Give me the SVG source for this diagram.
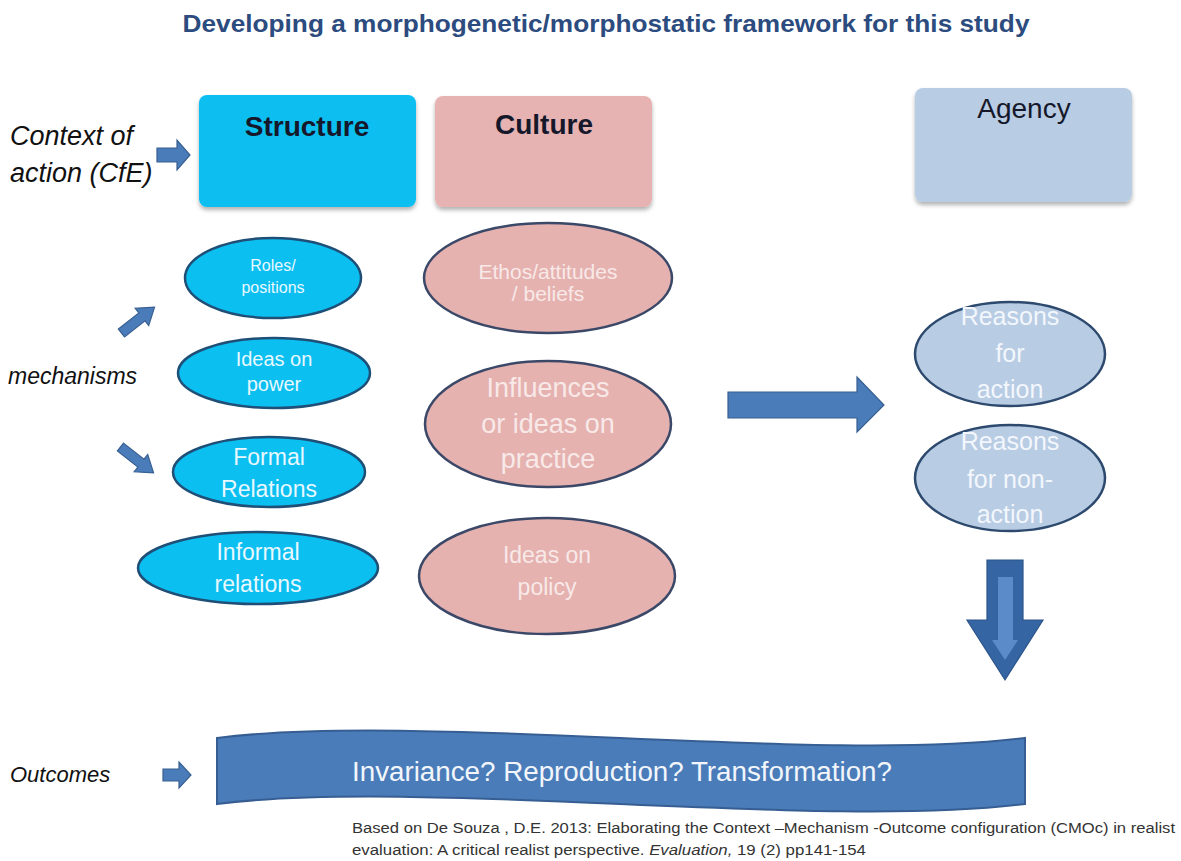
<svg xmlns="http://www.w3.org/2000/svg" width="1181" height="861" viewBox="0 0 1181 861">
<defs>
<filter id="sh" x="-10%" y="-10%" width="120%" height="130%">
<feDropShadow dx="0" dy="3" stdDeviation="2" flood-color="#000" flood-opacity="0.3"/>
</filter>
<path id="smallArrow" d="M -21 -5 L 5 -5 L 5 -11 L 21 0 L 5 11 L 5 5 L -21 5 Z"/>
</defs>
<style>
text{font-family:"Liberation Sans",Arial,sans-serif}
.title{font-size:24px;font-weight:bold;fill:#2c4b7e}
.head{font-size:28px;fill:#15182a}
.lbl{font-size:27px;font-style:italic;fill:#111}
.box-s{fill:#0bbff1}
.box-c{fill:#e6b3b2}
.box-a{fill:#b8cce4}
.ell-s{fill:#0bbff1;stroke:#1f4f77;stroke-width:2.5}
.ell-c{fill:#e5b2b0;stroke:#3b4868;stroke-width:2.5}
.ell-a{fill:#b8cce4;stroke:#2d4a6e;stroke-width:2.5}
.ts{fill:#e9f8ff;text-anchor:middle}
.tc{fill:#f8e9e8;text-anchor:middle}
.ta{fill:#f3f7fc;text-anchor:middle}
.arr{fill:#4a7cba;stroke:#385f91;stroke-width:1.2}
.cite{font-size:14px;fill:#333}
</style>

<text class="title" x="606" y="32" text-anchor="middle" textLength="847" lengthAdjust="spacingAndGlyphs">Developing a morphogenetic/morphostatic framework for this study</text>

<g id="context-label">
<text class="lbl" x="10" y="145">Context of</text>
<text class="lbl" x="10" y="182">action (CfE)</text>
</g>
<g id="mechanisms-label"><text class="lbl" x="8" y="384" style="font-size:23px">mechanisms</text></g>
<g id="outcomes-label"><text class="lbl" x="10" y="782" style="font-size:22px">Outcomes</text></g>

<g id="structure">
<rect class="box-s" x="199" y="95" width="217" height="112" rx="8" filter="url(#sh)"/>
<text class="head" x="307" y="136" text-anchor="middle" font-weight="bold">Structure</text>
</g>
<g id="culture">
<rect class="box-c" x="435" y="96" width="217" height="111" rx="8" filter="url(#sh)"/>
<text class="head" x="544" y="134" text-anchor="middle" font-weight="bold">Culture</text>
</g>
<g id="agency">
<rect class="box-a" x="915" y="88" width="217" height="114" rx="8" filter="url(#sh)"/>
<text class="head" x="1024" y="118" text-anchor="middle">Agency</text>
</g>

<g id="roles">
<ellipse class="ell-s" cx="273" cy="278" rx="88" ry="40"/>
<text class="ts" x="273" y="271" font-size="16">Roles/</text>
<text class="ts" x="273" y="293" font-size="16">positions</text>
</g>
<g id="ideas-power">
<ellipse class="ell-s" cx="274" cy="373" rx="96" ry="35"/>
<text class="ts" x="274" y="366" font-size="20">Ideas on</text>
<text class="ts" x="274" y="391" font-size="20">power</text>
</g>
<g id="formal">
<ellipse class="ell-s" cx="269" cy="472" rx="96" ry="35"/>
<text class="ts" x="269" y="465" font-size="23">Formal</text>
<text class="ts" x="269" y="497" font-size="23">Relations</text>
</g>
<g id="informal">
<ellipse class="ell-s" cx="258" cy="568" rx="120" ry="36"/>
<text class="ts" x="258" y="560" font-size="23">Informal</text>
<text class="ts" x="258" y="592" font-size="23">relations</text>
</g>

<g id="ethos">
<ellipse class="ell-c" cx="548" cy="278" rx="124" ry="55"/>
<text class="tc" x="548" y="279" font-size="21">Ethos/attitudes</text>
<text class="tc" x="548" y="301" font-size="21">/ beliefs</text>
</g>
<g id="influences">
<ellipse class="ell-c" cx="548" cy="424" rx="123" ry="63"/>
<text class="tc" x="548" y="397" font-size="27">Influences</text>
<text class="tc" x="548" y="433" font-size="27">or ideas on</text>
<text class="tc" x="548" y="468" font-size="27">practice</text>
</g>
<g id="policy">
<ellipse class="ell-c" cx="547" cy="576" rx="128" ry="58"/>
<text class="tc" x="547" y="563" font-size="23">Ideas on</text>
<text class="tc" x="547" y="595" font-size="23">policy</text>
</g>

<g id="reasons-action">
<ellipse class="ell-a" cx="1010" cy="354" rx="95" ry="52"/>
<text class="ta" x="1010" y="325" font-size="25">Reasons</text>
<text class="ta" x="1010" y="362" font-size="25">for</text>
<text class="ta" x="1010" y="398" font-size="25">action</text>
</g>
<g id="reasons-nonaction">
<ellipse class="ell-a" cx="1010" cy="478" rx="95" ry="53"/>
<text class="ta" x="1010" y="450" font-size="25">Reasons</text>
<text class="ta" x="1010" y="488" font-size="25">for non-</text>
<text class="ta" x="1010" y="523" font-size="25">action</text>
</g>

<g id="outcome-banner">
<path d="M 217 738 C 420 712 820 764 1025 738 L 1025 804 C 820 830 420 778 217 804 Z" fill="#4a7cba" stroke="#365e93" stroke-width="2"/>
<text x="622" y="781" font-size="27" fill="#f2f6fb" text-anchor="middle" textLength="540" lengthAdjust="spacingAndGlyphs">Invariance? Reproduction? Transformation?</text>
</g>

<g id="connectors">
<path class="arr" d="M 157 148 L 177 148 L 177 140 L 190 155 L 177 170 L 177 162 L 157 162 Z"/>
<use href="#smallArrow" class="arr" transform="translate(138 320) rotate(-38)"/>
<use href="#smallArrow" class="arr" transform="translate(137 460) rotate(38)"/>
<path class="arr" d="M 728 392 L 857 392 L 857 377 L 884 405 L 857 432 L 857 418 L 728 418 Z"/>
<path d="M 987 560 L 1023 560 L 1023 620 L 1043 620 L 1005 680 L 967 620 L 987 620 Z" fill="#3566a3" stroke="#2c548a" stroke-width="1.2"/>
<path d="M 998 577 L 1013 577 L 1013 640 L 1018 640 L 1005 660 L 992 640 L 998 640 Z" fill="#5b8bc8"/>
<path class="arr" d="M 163 769 L 179 769 L 179 762 L 191 775 L 179 788 L 179 781 L 163 781 Z"/>
</g>

<g id="citation">
<text class="cite" x="352" y="833" textLength="823" lengthAdjust="spacingAndGlyphs">Based on De Souza , D.E. 2013:  Elaborating the Context –Mechanism -Outcome configuration (CMOc) in realist</text>
<text class="cite" x="352" y="855" textLength="514" lengthAdjust="spacingAndGlyphs">evaluation: A critical realist perspective. <tspan font-style="italic">Evaluation,</tspan> 19 (2) pp141-154</text>
</g>
</svg>
